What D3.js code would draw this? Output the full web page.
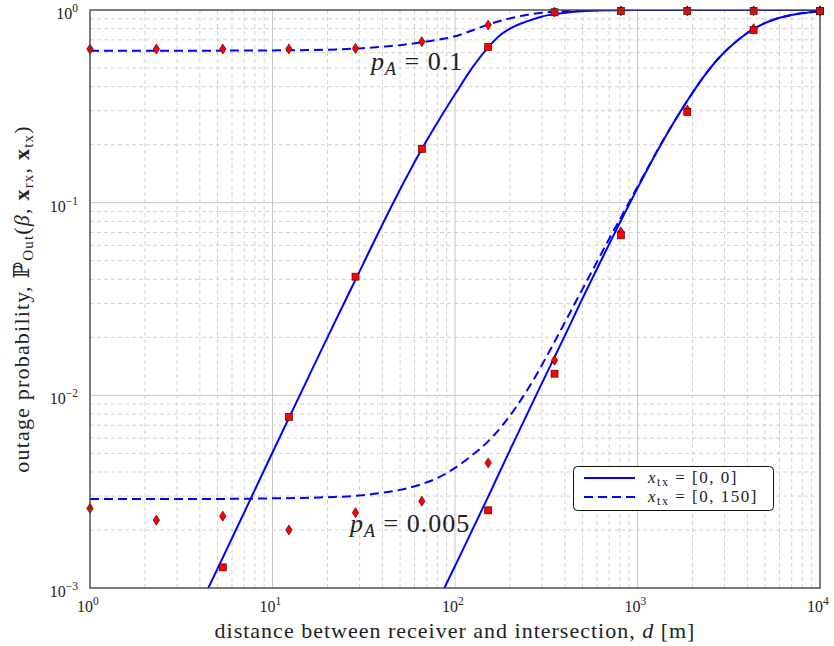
<!DOCTYPE html>
<html>
<head>
<meta charset="utf-8">
<script src="https://cdn.jsdelivr.net/npm/d3@7"></script>
<style>
  body { margin: 0; background: #fff; }
  svg { display: block; }
  text { font-family: "Liberation Serif", "DejaVu Serif", serif; fill: #222; }
</style>
</head>
<body>
<div id="chart"></div>
<script>
// simulation markers: distances and outage probabilities
const simD = [1, 2.31, 5.34, 12.3, 28.5, 65.8, 152, 351, 811, 1874, 4329, 10000]
const simHighSame = [null, null, 0.00128, 0.00772, 0.0413, 0.19, 0.643, 0.973, 0.988, 0.988, 0.988, 0.988]
const simHighOff = [0.627, 0.627, 0.627, 0.628, 0.632, 0.685, 0.836, 0.975, 0.99, 0.99, 0.99, 0.99]
const simLowSame = [null, null, null, null, null, null, 0.00253, 0.01295, 0.0677, 0.296, 0.787, 0.985]
const simLowOff = [0.00259, 0.00225, 0.00236, 0.0020, 0.00246, 0.00282, 0.00446, 0.0152, 0.0705, 0.303, 0.80, 0.987]

// analytical curves
const dSolid01 = [4, 5, 7, 10, 15, 20, 30, 40, 50, 65.8, 80, 100, 125, 152, 180, 200, 250, 300, 350, 450, 600, 1000, 10000]
const pSolid01 = [0.00081, 0.00126, 0.00247, 0.00505, 0.0113, 0.0200, 0.044, 0.077, 0.117, 0.19, 0.26, 0.365, 0.505, 0.64, 0.75, 0.80, 0.875, 0.925, 0.952, 0.98, 0.994, 0.999, 1]
const dDash01 = [1, 3, 10, 20, 30, 40, 50, 65.8, 80, 100, 125, 152, 200, 250, 300, 350, 450, 600, 1000, 10000]
const pDash01 = [0.615, 0.615, 0.617, 0.622, 0.632, 0.645, 0.657, 0.68, 0.70, 0.73, 0.785, 0.84, 0.905, 0.945, 0.968, 0.98, 0.993, 0.998, 1, 1]
const dSolid005 = [80, 100, 150, 200, 300, 400, 500, 600, 700, 800, 1000, 1330, 1874, 2200, 2830, 3500, 4329, 5000, 6000, 7000, 8500, 10000]
const pSolid005 = [0.00084, 0.0013, 0.0029, 0.0052, 0.0116, 0.0204, 0.0319, 0.0454, 0.061, 0.0787, 0.119, 0.197, 0.338, 0.424, 0.572, 0.691, 0.798, 0.856, 0.911, 0.943, 0.969, 0.982]
const dDash005 = [1, 5, 10, 20, 30, 40, 50, 65, 80, 100, 120, 150, 180, 220, 270, 330, 410, 480, 600, 700, 800, 1000, 1330, 1874, 2200, 2830, 3500, 4329, 5000, 6000, 7000, 8500, 10000]
const pDash005 = [0.0029, 0.0029, 0.00292, 0.00296, 0.00302, 0.00312, 0.00323, 0.00345, 0.00372, 0.0042, 0.00477, 0.0057, 0.0069, 0.0089, 0.0121, 0.0170, 0.0250, 0.0332, 0.0493, 0.065, 0.0818, 0.121, 0.198, 0.338, 0.424, 0.572, 0.691, 0.798, 0.856, 0.911, 0.943, 0.969, 0.982]

const xTicks = [1, 10, 100, 1000, 10000]
const xExp = ['0', '1', '2', '3', '4']
const yTicks = [1, 0.1, 0.01, 0.001]
const yExp = ['0', '\u22121', '\u22122', '\u22123']

const W = 834
const H = 646
const m = { top: 10, right: 14, bottom: 58, left: 90 }

const svg = d3.select('#chart').append('svg')
  .attr('width', W)
  .attr('height', H)

const x = d3.scaleLog().domain([1, 10000]).range([m.left, W - m.right])
const y = d3.scaleLog().domain([0.001, 1]).range([H - m.bottom, m.top])

svg.append('clipPath').attr('id', 'clip')
  .append('rect')
  .attr('x', m.left).attr('y', m.top)
  .attr('width', W - m.left - m.right)
  .attr('height', H - m.top - m.bottom)

// grid
const isMajor = v => Math.abs(Math.log10(v) - Math.round(Math.log10(v))) < 1e-9
const grid = svg.append('g')

grid.selectAll('.vminor').data(x.ticks().filter(v => !isMajor(v)))
  .join('line')
  .attr('x1', d => x(d)).attr('x2', d => x(d))
  .attr('y1', m.top).attr('y2', H - m.bottom)
  .attr('stroke', '#d2d2d2').attr('stroke-dasharray', '4,3')

grid.selectAll('.hminor').data(y.ticks().filter(v => !isMajor(v)))
  .join('line')
  .attr('y1', d => y(d)).attr('y2', d => y(d))
  .attr('x1', m.left).attr('x2', W - m.right)
  .attr('stroke', '#d2d2d2').attr('stroke-dasharray', '4,3')

grid.selectAll('.vmajor').data(xTicks)
  .join('line')
  .attr('x1', d => x(d)).attr('x2', d => x(d))
  .attr('y1', m.top).attr('y2', H - m.bottom)
  .attr('stroke', '#c8c8c8')

grid.selectAll('.hmajor').data(yTicks)
  .join('line')
  .attr('y1', d => y(d)).attr('y2', d => y(d))
  .attr('x1', m.left).attr('x2', W - m.right)
  .attr('stroke', '#c8c8c8')

// curves
const plot = svg.append('g').attr('clip-path', 'url(#clip)')
const line = d3.line()
  .x(d => x(d[0]))
  .y(d => y(d[1]))
  .curve(d3.curveMonotoneX)

const curves = [
  [dSolid01, pSolid01, null],
  [dDash01, pDash01, '9,5'],
  [dSolid005, pSolid005, null],
  [dDash005, pDash005, '9,5']
]
curves.forEach(([ds, ps, dash]) => {
  plot.append('path')
    .datum(d3.zip(ds, ps))
    .attr('fill', 'none')
    .attr('stroke', '#0000ff')
    .attr('stroke-width', 2)
    .attr('stroke-dasharray', dash)
    .attr('d', line)
})

// markers
const marks = svg.append('g')
const diamond = 'M0,-5L3.2,0L0,5L-3.2,0Z'
;[simHighOff, simLowOff].forEach(vals => {
  marks.selectAll(null).data(d3.zip(simD, vals).filter(d => d[1] !== null))
    .join('path')
    .attr('d', diamond)
    .attr('transform', d => `translate(${x(d[0])},${y(d[1])})`)
    .attr('fill', '#ff0000').attr('stroke', '#500').attr('stroke-width', 0.7)
})
;[simHighSame, simLowSame].forEach(vals => {
  marks.selectAll(null).data(d3.zip(simD, vals).filter(d => d[1] !== null))
    .join('rect')
    .attr('x', d => x(d[0]) - 3.5).attr('y', d => y(d[1]) - 3.5)
    .attr('width', 7).attr('height', 7)
    .attr('fill', '#ff0000').attr('stroke', '#500').attr('stroke-width', 0.7)
})

// frame
svg.append('rect')
  .attr('x', m.left).attr('y', m.top)
  .attr('width', W - m.left - m.right)
  .attr('height', H - m.top - m.bottom)
  .attr('fill', 'none').attr('stroke', '#444').attr('stroke-width', 1.3)

// tick labels
const xl = svg.append('g').selectAll('text').data(xTicks)
  .join('text')
  .attr('x', d => x(d) - 13).attr('y', H - m.bottom + 24)
  .attr('font-size', 16)
xl.append('tspan').text('10')
xl.append('tspan').attr('dy', -7).attr('font-size', 11.5).text((d, i) => xExp[i])

const yl = svg.append('g').selectAll('text').data(yTicks)
  .join('text')
  .attr('x', m.left - 12).attr('y', d => y(d) + 9)
  .attr('font-size', 16)
  .attr('text-anchor', 'end')
yl.append('tspan').text('10')
yl.append('tspan').attr('dy', -7).attr('font-size', 11.5).text((d, i) => yExp[i])

// axis titles
const xt = svg.append('text')
  .attr('x', (m.left + W - m.right) / 2).attr('y', H - 8)
  .attr('text-anchor', 'middle').attr('font-size', 22)
  .attr('letter-spacing', 1)
xt.append('tspan').text('distance between receiver and intersection, ')
xt.append('tspan').attr('font-style', 'italic').text('d')
xt.append('tspan').text(' [m]')

const yt = svg.append('text')
  .attr('transform', `translate(29,${(m.top + H - m.bottom) / 2}) rotate(-90)`)
  .attr('text-anchor', 'middle').attr('font-size', 22)
  .attr('letter-spacing', 1.2)
yt.append('tspan').text('outage probability, \u2119')
yt.append('tspan').attr('font-size', 15).attr('dy', 4).text('Out')
yt.append('tspan').attr('dy', -4).text('(')
yt.append('tspan').attr('font-style', 'italic').text('\u03b2')
yt.append('tspan').text(', ')
yt.append('tspan').attr('font-weight', 'bold').text('x')
yt.append('tspan').attr('font-size', 15).attr('dy', 4).text('rx')
yt.append('tspan').attr('dy', -4).text(', ')
yt.append('tspan').attr('font-weight', 'bold').text('x')
yt.append('tspan').attr('font-size', 15).attr('dy', 4).text('tx')
yt.append('tspan').attr('dy', -4).text(')')

// annotations
const notes = [['0.1', 371, 70], ['0.005', 350, 532]]
notes.forEach(([v, nx, ny]) => {
  const t = svg.append('text').attr('x', nx).attr('y', ny).attr('font-size', 26)
    .attr('letter-spacing', 1)
  t.append('tspan').attr('font-style', 'italic').text('p')
  t.append('tspan').attr('font-style', 'italic').attr('font-size', 18).attr('dy', 5).text('A')
  t.append('tspan').attr('dy', -5).text(' = ' + v)
})

// legend
const lg = svg.append('g')
lg.append('rect')
  .attr('x', 573.5).attr('y', 466.5).attr('width', 200).attr('height', 44).attr('rx', 4)
  .attr('fill', '#fff').attr('stroke', '#111').attr('stroke-width', 1)
const legendItems = [['0, 0', null, 478], ['0, 150', '9,5', 497]]
legendItems.forEach(([lab, dash, ly]) => {
  lg.append('line')
    .attr('x1', 584).attr('x2', 635).attr('y1', ly).attr('y2', ly)
    .attr('stroke', '#0000ff').attr('stroke-width', 2).attr('stroke-dasharray', dash)
  const t = lg.append('text').attr('x', 648).attr('y', ly + 5).attr('font-size', 17)
    .attr('letter-spacing', 1.5)
  t.append('tspan').attr('font-style', 'italic').text('x')
  t.append('tspan').attr('font-size', 12).attr('dy', 3).text('tx')
  t.append('tspan').attr('dy', -3).text(' = [' + lab + ']')
})
</script>
</body>
</html>
